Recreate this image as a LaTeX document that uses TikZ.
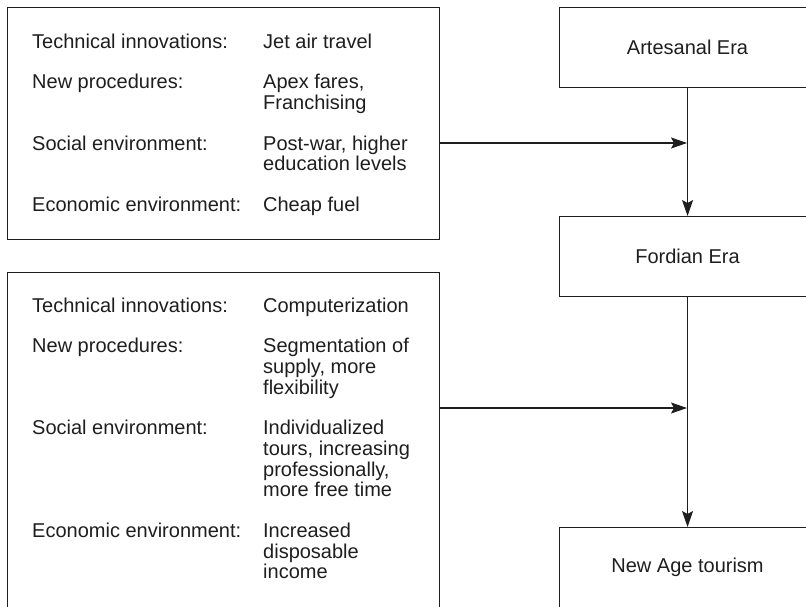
\documentclass[tikz,border=0pt]{standalone}
\usepackage{fontspec}
\setmainfont{Liberation Sans}
\usetikzlibrary{arrows.meta}
\definecolor{ink}{HTML}{1E1E1E}
\newcommand\bodysize{\fontsize{20}{20.3}\selectfont}
\begin{document}
\begin{tikzpicture}[x=1pt,y=1pt,
  frame/.style={draw=ink, line width=1.1pt, rectangle, anchor=north west, inner sep=0pt},
  ctxbox/.style={frame, minimum width=432pt},
  era/.style={frame, minimum width=256pt, minimum height=80pt, font=\bodysize, text=ink},
  listing/.style={anchor=base west, inner sep=0pt, font=\bodysize, text=ink},
  flow/.style={draw=ink, line width=1.1pt, -{Stealth[length=16pt,width=11pt,inset=3pt]}}
]
\useasboundingbox (0,0) rectangle (806,-606);
\clip (0,0) rectangle (806,-606);

% context boxes on the left
\node[ctxbox, minimum height=232pt] (ctx1) at (7,-7) {};
\node[ctxbox, minimum height=350pt] (ctx2) at (7,-272) {};

\node[listing] (ctx1text) at (32,-48) {%
  \begin{tabular}[t]{@{}p{231pt}@{}l@{}}
  Technical innovations: & Jet air travel\\
  \\
  New procedures: & Apex fares,\\
   & Franchising\\
  \\
  Social environment: & Post-war, higher\\
   & education levels\\
  \\
  Economic environment: & Cheap fuel
  \end{tabular}};

\node[listing] (ctx2text) at (32,-312) {%
  \begin{tabular}[t]{@{}p{231pt}@{}l@{}}
  Technical innovations: & Computerization\\
  \\
  New procedures: & Segmentation of\\
   & supply, more\\
   & flexibility\\
  \\
  Social environment: & Individualized\\
   & tours, increasing\\
   & professionally,\\
   & more free time\\
  \\
  Economic environment: & Increased\\
   & disposable\\
   & income
  \end{tabular}};

% eras on the right
\node[era] (era1) at (559,-7) {Artesanal Era};
\node[era] (era2) at (559,-216) {Fordian Era};
\node[era] (era3) at (559,-527) {New Age tourism};

% connectors
\coordinate (j1) at (687,-143);
\coordinate (j2) at (687,-408);
\draw[flow] (era1.south) -- (era2.north);
\draw[flow] (era2.south) -- (era3.north);
\draw[flow] (ctx1.east |- j1) -- (j1);
\draw[flow] (ctx2.east |- j2) -- (j2);
\end{tikzpicture}
\end{document}
